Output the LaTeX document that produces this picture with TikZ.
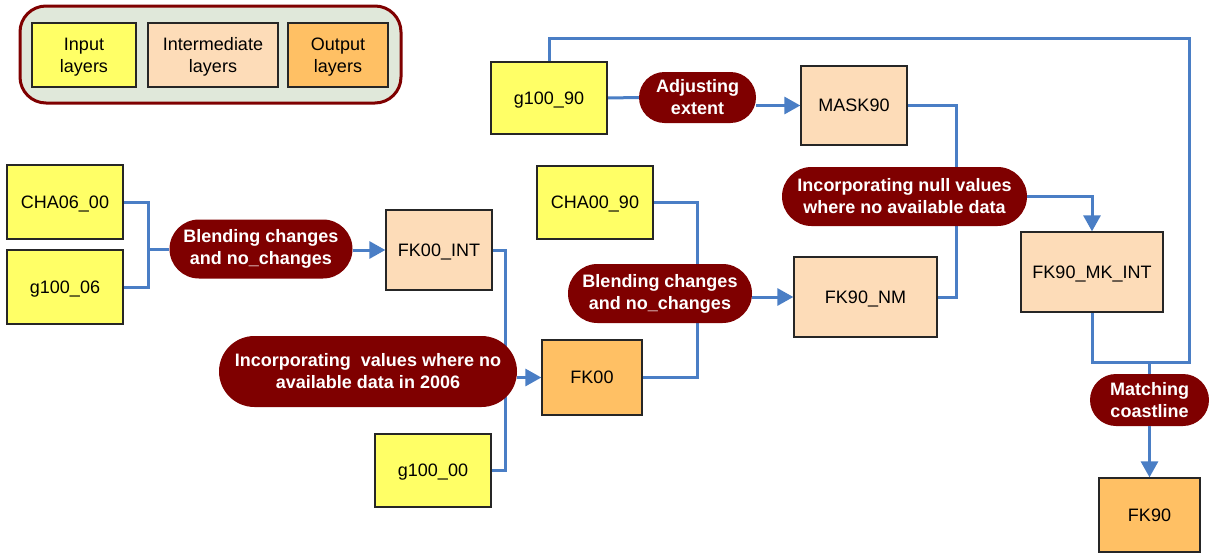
\documentclass[tikz,border=0pt]{standalone}
\usepackage{fontspec}
\setmainfont{Liberation Sans}
\usetikzlibrary{arrows.meta,shapes.misc,backgrounds}
\definecolor{inputcol}{HTML}{FFFF66}
\definecolor{midcol}{HTML}{FDDCB8}
\definecolor{outcol}{HTML}{FFC064}
\definecolor{pillred}{HTML}{7F0000}
\definecolor{flowblue}{HTML}{4A7EC5}
\definecolor{legendbg}{HTML}{E0E8DA}
\begin{document}
\begin{tikzpicture}[x=1pt,y=-1pt,
  every node/.style={font=\fontsize{18}{22}\selectfont, align=center, inner sep=0pt},
  layer/.style={draw=black!85, line width=1.3pt, minimum width=#1, text depth=0pt},
  inbox/.style={layer=116pt, fill=inputcol},
  midbox/.style={layer=106pt, fill=midcol},
  outbox/.style={layer=100pt, fill=outcol},
  pill/.style={rounded rectangle, fill=pillred, text=white, font=\bfseries\fontsize{18}{22}\selectfont},
  flow/.style={draw=flowblue, line width=3pt},
  arrowflow/.style={flow, -{Triangle[length=16pt,width=17pt]}, shorten >=0pt}
]
\useasboundingbox (0,0) rectangle (1211,554);

% legend
\node[draw=pillred, line width=3pt, fill=legendbg, rounded corners=26pt,
      minimum width=381pt, minimum height=97pt] (legend) at (210.5,54.5) {};
\node[inbox, minimum width=104pt, minimum height=64pt] (legin) at (84,55) {Input\\layers};
\node[midbox, minimum width=130pt, minimum height=64pt] (legmid) at (213,55) {Intermediate\\layers};
\node[outbox, minimum width=100pt, minimum height=64pt] (legout) at (338,55) {Output\\layers};

% layers
\node[inbox, minimum height=74pt] (cha0600) at (65,202) {CHA06\_00};
\node[inbox, minimum height=74pt] (g10006) at (65,287) {g100\_06};
\node[midbox, minimum height=80pt] (fk00int) at (439,250) {FK00\_INT};
\node[outbox, minimum height=75pt] (fk00) at (592,377.5) {FK00};
\node[inbox, minimum height=73pt] (g10000) at (433,470.5) {g100\_00};
\node[inbox, minimum height=73pt] (cha0090) at (595,202.5) {CHA00\_90};
\node[midbox, minimum width=143pt, minimum height=80pt] (fk90nm) at (865.5,297) {FK90\_NM};
\node[inbox, minimum height=72pt] (g10090) at (549,98) {g100\_90};
\node[midbox, minimum height=79pt] (mask90) at (854,105.5) {MASK90};
\node[midbox, minimum width=142pt, minimum height=80pt] (fk90mkint) at (1092,272) {FK90\_MK\_INT};
\node[outbox, minimum width=101pt, minimum height=74pt] (fk90) at (1149.5,515) {FK90};

% processing steps
\node[pill, minimum width=183pt, minimum height=59pt] (blend1) at (261,249) {Blending changes\\and no\_changes};
\node[pill, minimum width=298pt, minimum height=71pt] (incorp1) at (368,371.5) {Incorporating\ \ values where no\\available data in 2006};
\node[pill, minimum width=184pt, minimum height=59pt] (blend2) at (660,293.5) {Blending changes\\and no\_changes};
\node[pill, minimum width=117pt, minimum height=51pt] (adjust) at (697.5,97.5) {Adjusting\\extent};
\node[pill, minimum width=245pt, minimum height=59pt] (incorp2) at (904.5,196.5) {Incorporating null values\\where no available data};
\node[pill, minimum width=119pt, minimum height=52pt] (match) at (1149.5,400) {Matching\\coastline};

% junction points of the connectors
\coordinate (j1) at (148,249);
\coordinate (j2) at (505,371.5);
\coordinate (j3) at (697,293.5);
\coordinate (j4) at (956,196.5);
\coordinate (topR) at (1189,38);
\coordinate (j5) at (1149.5,362);

\begin{scope}[on background layer]
  \draw[flow] (cha0600.east) -| (j1) |- (g10006.east);
  \draw[flow] (j1) -- (blend1.west);
  \draw[flow] (fk00int.east) -| (j2) |- (g10000.east);
  \draw[flow] (fk00.east) -| (j3) |- (cha0090.east);
  \draw[flow] (g10090.east) -- (adjust.west);
  \draw[flow] (mask90.east) -| (j4) |- (fk90nm.east);
  \draw[flow] (g10090.north) |- (topR) |- (j5);
  \draw[flow] (fk90mkint.south) |- (j5);
  \draw[flow] (j5) -- (match.north);
\end{scope}

\draw[arrowflow] (blend1.east |- fk00int.west) -- (fk00int.west);
\draw[arrowflow] (incorp1.east |- fk00.west) -- (fk00.west);
\draw[arrowflow] (blend2.east |- fk90nm.west) -- (fk90nm.west);
\draw[arrowflow] (adjust.east |- mask90.west) -- (mask90.west);
\draw[arrowflow] (incorp2.east) -| (fk90mkint.north);
\draw[arrowflow] (match.south) -- (fk90.north);
\end{tikzpicture}
\end{document}
